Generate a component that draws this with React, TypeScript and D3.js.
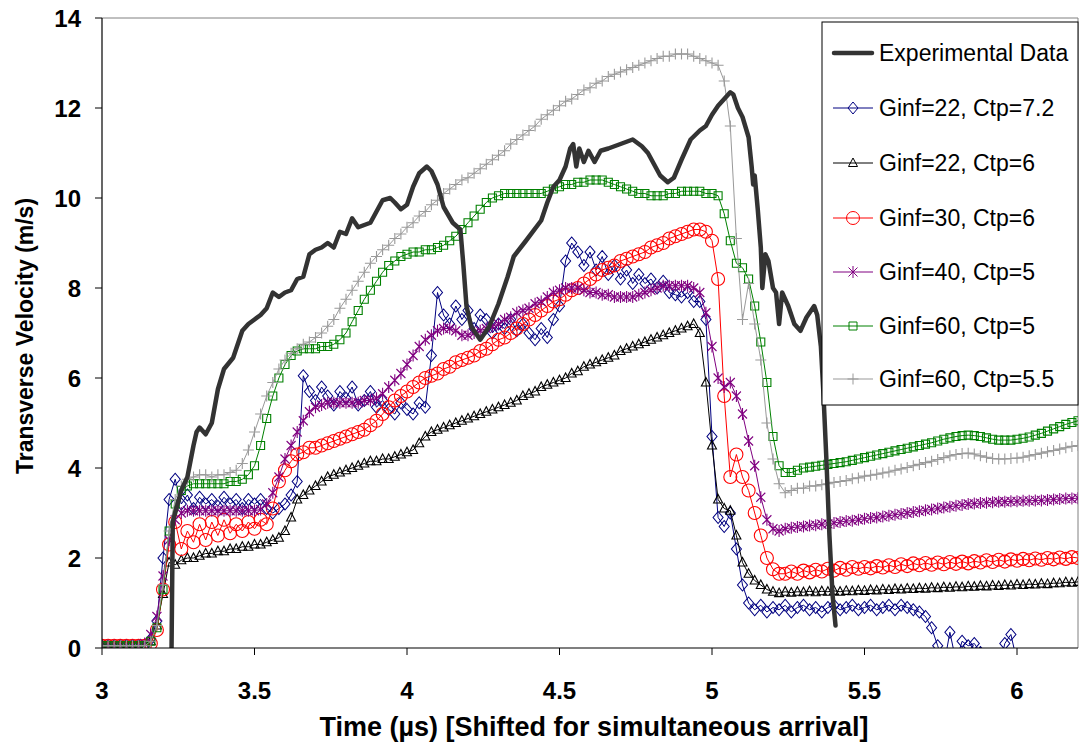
import React from 'react';
import * as d3 from 'd3';

const W = 1081;
const H = 751;
const PLOT = { left: 102, right: 1078, top: 18, bottom: 648 };

const xTickValues = [3, 3.5, 4, 4.5, 5, 5.5, 6];
const xTickLabels = ['3', '3.5', '4', '4.5', '5', '5.5', '6'];
const yTickValues = [0, 2, 4, 6, 8, 10, 12, 14];
const yTickLabels = ['0', '2', '4', '6', '8', '10', '12', '14'];

const xTitle = 'Time (µs) [Shifted for simultaneous arrival]';
const yTitle = 'Transverse Velocity (m/s)';

// Simulation samples: start time and spacing of the common time grid (µs)
const simStart = 3.0;
const simStep = 0.02;

// Ginf=22, Ctp=7.2
const ginf22ctp72 = [
  0.05, 0.05, 0.05, 0.05, 0.05, 0.05, 0.05, 0.05, 0.2, 0.6,
  2.0, 3.3, 3.75, 3.2, 3.4, 3.1, 3.35, 3.2, 3.3, 3.15,
  3.35, 3.2, 3.3, 3.1, 3.3, 3.2, 3.3, 3.1, 3.0, 3.1,
  3.2, 3.4, 3.7, 6.05, 5.7, 5.5, 5.8, 5.6, 5.4, 5.7,
  5.55, 5.8, 5.4, 5.5, 5.7, 5.35, 5.5, 5.3, 5.2, 5.45,
  5.3, 5.2, 5.45, 5.35, 6.5, 7.9, 7.4, 7.2, 7.6, 7.3,
  7.5, 7.1, 7.4, 7.3, 7.0, 7.2, 7.1, 7.3, 7.05, 7.2,
  7.0, 6.85, 7.1, 6.9, 7.3, 7.6, 8.6, 9.0, 8.8, 8.5,
  8.8, 8.4, 8.7, 8.3, 8.5, 8.2, 8.4, 8.1, 8.3, 8.1,
  8.2, 8.0, 8.15, 7.9, 7.85, 7.8, 7.9, 7.7, 7.7, 7.3,
  4.7, 2.9, 2.7, 3.0, 2.2, 1.4, 1.0, 0.85, 0.95, 0.8,
  0.9, 0.85, 0.95, 0.8, 0.9, 0.95, 0.85, 0.9, 0.8, 0.9,
  0.95, 0.85, 0.9, 0.95, 0.85, 0.9, 0.95, 0.85, 0.9, 0.95,
  0.85, 0.95, 0.9, 0.85, 0.8, 0.7, 0.45, 0.05, -0.4, 0.35,
  -0.3, 0.15, 0.05, 0.1, -0.1, -0.6, -0.8, -0.5, 0.1, 0.3,
  -0.3, -0.8, -1, -1, -1, -1, -1, -1, -1, -1,
  -1,
];

// Ginf=22, Ctp=6
const ginf22ctp6 = [
  0.05, 0.05, 0.05, 0.05, 0.05, 0.05, 0.05, 0.05, 0.15, 0.5,
  1.2, 1.9, 1.85, 1.95, 2.0, 2.0, 2.05, 2.1, 2.1, 2.15,
  2.15, 2.2, 2.2, 2.25, 2.25, 2.3, 2.3, 2.35, 2.4, 2.45,
  2.6, 2.9, 3.3, 3.4, 3.5, 3.6, 3.7, 3.8, 3.85, 3.9,
  3.95, 4.0, 4.05, 4.1, 4.15, 4.15, 4.2, 4.2, 4.25, 4.3,
  4.35, 4.4, 4.55, 4.7, 4.8, 4.85, 4.9, 4.95, 5.0, 5.05,
  5.1, 5.15, 5.2, 5.25, 5.3, 5.35, 5.4, 5.45, 5.5, 5.6,
  5.65, 5.7, 5.8, 5.85, 5.9, 5.95, 6.0, 6.1, 6.15, 6.25,
  6.3, 6.35, 6.4, 6.45, 6.5, 6.6, 6.65, 6.7, 6.75, 6.8,
  6.85, 6.9, 6.95, 7.0, 7.05, 7.1, 7.15, 7.2, 7.0, 5.9,
  4.5, 3.3, 3.1, 3.05, 2.5, 1.9, 1.65, 1.5, 1.4, 1.3,
  1.25, 1.22, 1.25, 1.23, 1.25, 1.24, 1.26, 1.24, 1.26, 1.25,
  1.27, 1.25, 1.27, 1.26, 1.28, 1.27, 1.29, 1.28, 1.3, 1.29,
  1.31, 1.3, 1.32, 1.31, 1.33, 1.32, 1.34, 1.33, 1.35, 1.34,
  1.36, 1.35, 1.37, 1.36, 1.38, 1.37, 1.39, 1.38, 1.4, 1.39,
  1.41, 1.4, 1.42, 1.41, 1.43, 1.42, 1.44, 1.44, 1.46, 1.45,
  1.47,
];

// Ginf=30, Ctp=6
const ginf30ctp6 = [
  0.05, 0.05, 0.05, 0.05, 0.05, 0.05, 0.05, 0.05, 0.1, 0.4,
  1.3, 2.3, 2.8, 2.2, 2.6, 2.35, 2.75, 2.4, 2.8, 2.5,
  2.85, 2.55, 2.75, 2.6, 2.8, 2.65, 2.85, 2.75, 3.1, 3.7,
  3.95, 4.15, 4.3, 4.35, 4.45, 4.45, 4.5, 4.55, 4.6, 4.65,
  4.7, 4.75, 4.8, 4.85, 4.95, 5.05, 5.2, 5.35, 5.5, 5.6,
  5.7, 5.8, 5.9, 6.0, 6.05, 6.1, 6.2, 6.25, 6.35, 6.4,
  6.45, 6.5, 6.6, 6.65, 6.75, 6.85, 6.9, 7.0, 7.1, 7.2,
  7.3, 7.4, 7.5, 7.6, 7.7, 7.75, 7.85, 7.95, 8.0, 8.1,
  8.2, 8.3, 8.4, 8.45, 8.5, 8.6, 8.65, 8.7, 8.75, 8.8,
  8.9, 8.95, 9.0, 9.1, 9.15, 9.2, 9.25, 9.3, 9.3, 9.25,
  9.05, 8.2, 5.6, 3.8, 4.3, 3.8, 3.5, 3.0, 2.5, 2.0,
  1.75, 1.65, 1.65, 1.7, 1.65, 1.72, 1.68, 1.74, 1.7, 1.76,
  1.72, 1.78, 1.74, 1.8, 1.76, 1.8, 1.77, 1.82, 1.79, 1.84,
  1.8, 1.86, 1.82, 1.88, 1.84, 1.89, 1.85, 1.9, 1.86, 1.91,
  1.87, 1.92, 1.88, 1.93, 1.9, 1.95, 1.91, 1.96, 1.92, 1.97,
  1.94, 1.98, 1.95, 1.99, 1.96, 2.0, 1.97, 2.01, 1.98, 2.02,
  2.0,
];

// Ginf=40, Ctp=5
const ginf40ctp5 = [
  0.05, 0.05, 0.05, 0.05, 0.05, 0.05, 0.05, 0.1, 0.3, 0.7,
  1.6, 2.4, 2.85, 3.0, 3.05, 3.05, 3.05, 3.05, 3.05, 3.05,
  3.05, 3.05, 3.05, 3.05, 3.05, 3.05, 3.08, 3.2, 3.45, 3.8,
  4.2, 4.5, 4.8, 5.05, 5.25, 5.35, 5.4, 5.45, 5.45, 5.45,
  5.45, 5.45, 5.45, 5.5, 5.5, 5.55, 5.65, 5.8, 5.95, 6.1,
  6.3, 6.5, 6.7, 6.85, 6.95, 7.05, 7.1, 7.1, 7.05, 6.95,
  6.95, 7.0, 7.05, 7.1, 7.15, 7.2, 7.3, 7.35, 7.45, 7.5,
  7.55, 7.65, 7.7, 7.8, 7.9, 7.95, 8.0, 8.0, 8.0, 7.95,
  7.9, 7.9, 7.85, 7.85, 7.8, 7.8, 7.8, 7.8, 7.85, 7.9,
  7.95, 8.0, 8.05, 8.05, 8.05, 8.05, 8.05, 8.0, 7.9, 7.45,
  6.7, 6.0, 5.8, 5.9, 5.6, 5.2, 4.6, 4.05, 3.35, 2.85,
  2.65, 2.6, 2.65, 2.67, 2.69, 2.7, 2.72, 2.73, 2.75, 2.76,
  2.78, 2.8, 2.82, 2.83, 2.85, 2.87, 2.89, 2.9, 2.92, 2.94,
  2.96, 2.98, 3.0, 3.02, 3.04, 3.06, 3.08, 3.1, 3.12, 3.14,
  3.16, 3.18, 3.2, 3.21, 3.22, 3.23, 3.24, 3.25, 3.25, 3.26,
  3.26, 3.27, 3.27, 3.28, 3.28, 3.29, 3.3, 3.31, 3.32, 3.32,
  3.33,
];

// Ginf=60, Ctp=5
const ginf60ctp5 = [
  0.05, 0.05, 0.05, 0.05, 0.05, 0.05, 0.05, 0.05, 0.15, 0.45,
  1.3, 2.6, 3.2, 3.5, 3.6, 3.65, 3.65, 3.65, 3.65, 3.65,
  3.65, 3.7, 3.7, 3.75, 3.85, 4.05, 4.5, 5.1, 5.6, 6.0,
  6.3, 6.5, 6.6, 6.65, 6.65, 6.65, 6.7, 6.7, 6.75, 6.85,
  7.0, 7.25, 7.5, 7.75, 7.95, 8.15, 8.35, 8.5, 8.6, 8.7,
  8.75, 8.8, 8.8, 8.85, 8.85, 8.9, 8.95, 9.05, 9.15, 9.3,
  9.45, 9.6, 9.75, 9.9, 10.0, 10.05, 10.1, 10.1, 10.1, 10.1,
  10.1, 10.1, 10.1, 10.15, 10.2, 10.25, 10.3, 10.3, 10.35, 10.35,
  10.4, 10.4, 10.4, 10.35, 10.3, 10.25, 10.2, 10.15, 10.1, 10.1,
  10.05, 10.05, 10.05, 10.1, 10.1, 10.15, 10.15, 10.15, 10.15, 10.1,
  10.1, 10.05, 9.65, 9.05, 8.55, 8.45, 8.2, 7.6, 6.8, 5.9,
  4.7, 4.05, 3.9, 3.9, 3.95, 4.0, 4.02, 4.04, 4.06, 4.08,
  4.1, 4.12, 4.14, 4.17, 4.2, 4.23, 4.26, 4.29, 4.32, 4.35,
  4.38, 4.41, 4.44, 4.47, 4.5, 4.53, 4.56, 4.6, 4.64, 4.67,
  4.7, 4.72, 4.73, 4.72, 4.7, 4.67, 4.64, 4.62, 4.62, 4.62,
  4.64, 4.66, 4.69, 4.73, 4.77, 4.82, 4.87, 4.92, 4.97, 5.01,
  5.05,
];

// Ginf=60, Ctp=5.5
const ginf60ctp55 = [
  0.05, 0.05, 0.05, 0.05, 0.05, 0.05, 0.05, 0.05, 0.15, 0.5,
  1.4, 2.6, 3.3, 3.6, 3.75, 3.8, 3.85, 3.85, 3.8, 3.85,
  3.85, 3.9, 3.95, 4.1, 4.4, 4.8, 5.2, 5.6, 5.9, 6.2,
  6.4, 6.55, 6.65, 6.75, 6.8, 6.9, 7.0, 7.15, 7.3, 7.55,
  7.75, 7.95, 8.15, 8.35, 8.55, 8.7, 8.85, 8.95, 9.1, 9.2,
  9.35, 9.45, 9.6, 9.7, 9.85, 9.95, 10.1, 10.2, 10.3, 10.4,
  10.45, 10.55, 10.65, 10.75, 10.85, 10.95, 11.05, 11.2, 11.3, 11.4,
  11.5, 11.6, 11.75, 11.85, 11.95, 12.05, 12.15, 12.2, 12.3, 12.4,
  12.45, 12.55, 12.6, 12.7, 12.75, 12.8, 12.85, 12.9, 12.95, 13.0,
  13.05, 13.1, 13.15, 13.15, 13.2, 13.2, 13.2, 13.15, 13.1, 13.05,
  13.0, 12.95, 12.6, 11.6, 9.1, 7.3, 8.1, 7.2, 6.4, 5.0,
  4.2, 3.65, 3.45, 3.5, 3.55, 3.55, 3.6, 3.6, 3.63, 3.65,
  3.68, 3.7, 3.72, 3.76, 3.78, 3.82, 3.84, 3.86, 3.89, 3.91,
  3.95, 3.98, 4.01, 4.05, 4.08, 4.12, 4.15, 4.19, 4.23, 4.27,
  4.3, 4.32, 4.33, 4.31, 4.27, 4.24, 4.21, 4.2, 4.2, 4.21,
  4.22, 4.24, 4.27, 4.3, 4.33, 4.36, 4.39, 4.42, 4.45, 4.48,
  4.5,
];

// Experimental data: time (µs) and velocity (m/s)
const expTime = [
  3.228, 3.232, 3.26, 3.28, 3.3, 3.31, 3.32, 3.34, 3.36, 3.38,
  3.4, 3.43, 3.46, 3.48, 3.5, 3.52, 3.54, 3.56, 3.58, 3.6,
  3.62, 3.64, 3.66, 3.68, 3.7, 3.72, 3.74, 3.76, 3.78, 3.8,
  3.82, 3.84, 3.86, 3.88, 3.9, 3.92, 3.945, 3.96, 3.98, 4.0,
  4.02, 4.04, 4.065, 4.08, 4.1, 4.12, 4.15, 4.175, 4.185, 4.195,
  4.21, 4.225, 4.24, 4.27, 4.3, 4.33, 4.35, 4.39, 4.44, 4.46,
  4.48, 4.5, 4.52, 4.535, 4.545, 4.555, 4.565, 4.58, 4.595, 4.615,
  4.635, 4.66, 4.7, 4.74, 4.77, 4.79, 4.81, 4.83, 4.855, 4.875,
  4.9, 4.93, 4.96, 4.98, 5.0, 5.02, 5.04, 5.06, 5.07, 5.085,
  5.1, 5.12, 5.13, 5.135, 5.14, 5.15, 5.16, 5.165, 5.175, 5.185,
  5.2, 5.21, 5.22, 5.23, 5.25, 5.27, 5.29, 5.31, 5.335, 5.345,
  5.357, 5.365, 5.375, 5.385, 5.395, 5.405,
];
const expVelocity = [
  0, 2.8, 3.5, 3.8, 4.5, 4.8, 4.9, 4.75, 5.0, 5.75,
  6.2, 6.45, 7.05, 7.2, 7.3, 7.4, 7.55, 7.9, 7.8, 7.9,
  7.95, 8.2, 8.25, 8.75, 8.85, 8.9, 9.0, 8.9, 9.25, 9.2,
  9.55, 9.35, 9.4, 9.45, 9.7, 9.95, 10.0, 9.9, 9.75, 9.85,
  10.25, 10.55, 10.7, 10.6, 10.3, 9.8, 9.45, 9.3, 8.5, 7.6,
  7.15, 7.0, 6.85, 7.15, 7.65, 8.25, 8.7, 9.05, 9.5, 9.9,
  10.25, 10.4, 10.7, 11.1, 11.2, 10.7, 11.1, 10.8, 11.05, 10.8,
  11.05, 11.1, 11.2, 11.3, 11.15, 11.0, 10.75, 10.5, 10.35, 10.45,
  10.85, 11.3, 11.5, 11.6, 11.85, 12.05, 12.2, 12.35, 12.3, 12.0,
  11.8, 11.35, 10.7, 10.3, 10.5, 9.75, 8.9, 8.0, 8.75, 8.6,
  8.0, 7.9, 7.2, 7.9, 7.6, 7.2, 7.05, 7.35, 7.6, 7.4,
  6.7, 5.7, 4.2, 2.5, 1.2, 0.5,
];

const seriesNames = [
  'Experimental Data',
  'Ginf=22, Ctp=7.2',
  'Ginf=22, Ctp=6',
  'Ginf=30, Ctp=6',
  'Ginf=40, Ctp=5',
  'Ginf=60, Ctp=5',
  'Ginf=60, Ctp=5.5',
];

const FONT = '"Liberation Sans", Arial, Helvetica, sans-serif';

type MarkerKind = 'diamond' | 'triangle' | 'circle' | 'star' | 'square' | 'plus';

function markerPath(kind: MarkerKind): string {
  switch (kind) {
    case 'diamond':
      return 'M0,-6L5,0L0,6L-5,0Z';
    case 'triangle':
      return 'M0,-5L4.5,3.5L-4.5,3.5Z';
    case 'circle':
      return 'M6.5,0A6.5,6.5,0,1,1,-6.5,0A6.5,6.5,0,1,1,6.5,0Z';
    case 'square':
      return 'M-4,-4H4V4H-4Z';
    case 'star':
      return 'M-4.5,-4.5L4.5,4.5M-4.5,4.5L4.5,-4.5M0,-6V6';
    case 'plus':
      return 'M-5.5,0H5.5M0,-5.5V5.5';
  }
}

const simSeries: { name: string; values: number[]; color: string; marker: MarkerKind }[] = [
  { name: seriesNames[1], values: ginf22ctp72, color: '#000080', marker: 'diamond' },
  { name: seriesNames[2], values: ginf22ctp6, color: '#000000', marker: 'triangle' },
  { name: seriesNames[3], values: ginf30ctp6, color: '#FF0000', marker: 'circle' },
  { name: seriesNames[4], values: ginf40ctp5, color: '#800080', marker: 'star' },
  { name: seriesNames[5], values: ginf60ctp5, color: '#008000', marker: 'square' },
  { name: seriesNames[6], values: ginf60ctp55, color: '#999999', marker: 'plus' },
];

export default function App() {
  const x = d3.scaleLinear().domain([3, 6.2]).range([PLOT.left, PLOT.right]);
  const y = d3.scaleLinear().domain([0, 14]).range([PLOT.bottom, PLOT.top]);

  const simTime = (i: number) => simStart + i * simStep;

  const line = d3
    .line<[number, number]>()
    .x((d) => x(d[0]))
    .y((d) => y(d[1]));

  const expPts: [number, number][] = expTime.map((t, i) => [t, expVelocity[i]]);

  const legendX = 822;
  const legendY = 22;
  const legendW = PLOT.right - legendX;
  const legendH = 405 - legendY;
  const legendRows = [53, 108, 163, 218, 272, 326, 379];

  return (
    <svg
      width={W}
      height={H}
      viewBox={`0 0 ${W} ${H}`}
      style={{ position: 'absolute', left: 0, top: 0, background: '#fff' }}
    >
      <defs>
        <clipPath id="plotClip">
          <rect x={PLOT.left} y={PLOT.top} width={PLOT.right - PLOT.left} height={PLOT.bottom - PLOT.top} />
        </clipPath>
      </defs>
      <rect x={0} y={0} width={W} height={H} fill="#fff" />

      {/* plot border */}
      <line x1={PLOT.left} x2={PLOT.right} y1={PLOT.top} y2={PLOT.top} stroke="#808080" strokeWidth={1} />
      <line x1={PLOT.right} x2={PLOT.right} y1={PLOT.top} y2={PLOT.bottom} stroke="#808080" strokeWidth={1} />

      {/* series */}
      <g clipPath="url(#plotClip)">
        {simSeries.map((s) => {
          const pts: [number, number][] = s.values.map((v, i) => [simTime(i), v]);
          return (
            <g key={s.name}>
              <path d={line(pts) || ''} fill="none" stroke={s.color} strokeWidth={1} />
              {pts.map((p, i) => (
                <path
                  key={i}
                  d={markerPath(s.marker)}
                  transform={`translate(${x(p[0])},${y(p[1])})`}
                  fill="none"
                  stroke={s.color}
                  strokeWidth={1.1}
                />
              ))}
            </g>
          );
        })}
        <path
          d={line(expPts) || ''}
          fill="none"
          stroke="#333333"
          strokeWidth={4.5}
          strokeLinejoin="round"
          strokeLinecap="round"
        />
      </g>

      {/* axes */}
      <line x1={PLOT.left} x2={PLOT.left} y1={PLOT.top} y2={PLOT.bottom} stroke="#000" strokeWidth={1.2} />
      <line x1={PLOT.left} x2={PLOT.right} y1={PLOT.bottom} y2={PLOT.bottom} stroke="#000" strokeWidth={1.2} />
      {yTickValues.map((v, i) => (
        <g key={'yt' + v}>
          <line x1={PLOT.left - 7} x2={PLOT.left} y1={y(v)} y2={y(v)} stroke="#000" strokeWidth={1} />
          <text
            x={81}
            y={y(v)}
            dy="0.36em"
            textAnchor="end"
            fontFamily={FONT}
            fontWeight="bold"
            fontSize={24}
            fill="#000"
          >
            {yTickLabels[i]}
          </text>
        </g>
      ))}
      {xTickValues.map((v, i) => (
        <g key={'xt' + v}>
          <line x1={x(v)} x2={x(v)} y1={PLOT.bottom} y2={PLOT.bottom + 7} stroke="#000" strokeWidth={1} />
          <text
            x={x(v)}
            y={699}
            textAnchor="middle"
            fontFamily={FONT}
            fontWeight="bold"
            fontSize={24}
            fill="#000"
          >
            {xTickLabels[i]}
          </text>
        </g>
      ))}
      <text
        x={594}
        y={736}
        textAnchor="middle"
        fontFamily={FONT}
        fontWeight="bold"
        fontSize={27}
        fill="#000"
      >
        {xTitle}
      </text>
      <text
        transform="translate(33, 336) rotate(-90)"
        textAnchor="middle"
        fontFamily={FONT}
        fontWeight="bold"
        fontSize={23}
        fill="#000"
      >
        {yTitle}
      </text>

      {/* legend */}
      <rect x={legendX} y={legendY} width={legendW} height={legendH} fill="#fff" stroke="#000" strokeWidth={1} />
      {seriesNames.map((name, i) => {
        const ry = legendRows[i];
        const sim = i > 0 ? simSeries[i - 1] : null;
        return (
          <g key={'lg' + name}>
            {sim ? (
              <>
                <line x1={833} x2={873} y1={ry} y2={ry} stroke={sim.color} strokeWidth={1} />
                <path
                  d={markerPath(sim.marker)}
                  transform={`translate(853,${ry})`}
                  fill="none"
                  stroke={sim.color}
                  strokeWidth={1}
                />
              </>
            ) : (
              <line x1={834} x2={872} y1={ry} y2={ry} stroke="#333333" strokeWidth={4.5} strokeLinecap="round" />
            )}
            <text x={879} y={ry} dy="0.36em" fontFamily={FONT} fontSize={23} fill="#000">
              {name}
            </text>
          </g>
        );
      })}
    </svg>
  );
}
